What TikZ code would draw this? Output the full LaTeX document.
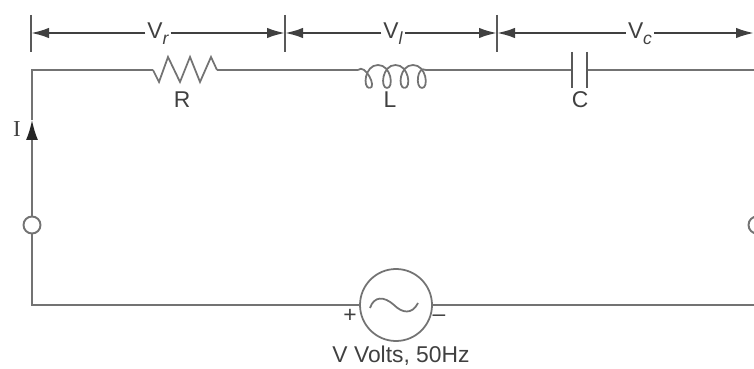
\documentclass[tikz,border=0pt]{standalone}
\usepackage{fontspec}
\setmainfont{Liberation Sans}
\newfontfamily\currentfont{Liberation Serif}
\usetikzlibrary{arrows.meta}
\newcommand{\subtxt}[1]{\raisebox{-3.5pt}{\fontsize{10}{10}\selectfont\itshape #1}}
\tikzset{
    wire/.style={draw=black!55, line width=1pt},
    tick/.style={draw=black!65, line width=1pt},
    dimline/.style={draw=black!75, line width=1.2pt, -{Latex[length=3.6mm,width=2.1mm]}},
    lbl/.style={text=black!75, font=\fontsize{13}{15}\selectfont, inner sep=0pt},
    terminal/.style={draw=black!55, line width=1.1pt, circle, fill=white, inner sep=0pt, minimum size=3.4mm}
}
\begin{document}
\begin{tikzpicture}
    \clip (0,0) rectangle (15.08,7.36);

    % corners and element ends
    \coordinate (tl) at (0.64,5.96);
    \coordinate (tr) at (15.08,5.96);
    \coordinate (br) at (15.08,1.26);
    \coordinate (itip) at (0.64,4.96);
    \coordinate (r1) at (3.06,5.96);
    \coordinate (r2) at (4.34,5.96);
    \coordinate (l1) at (7.16,5.96);
    \coordinate (l2) at (8.52,5.96);
    \coordinate (c1) at (11.44,5.96);
    \coordinate (c2) at (11.74,5.96);

    % Terminals and source
    \node[terminal] (t1) at (0.64,2.86) {};
    \node[terminal] (t2) at (15.14,2.86) {};
    \node[wire, draw, circle, fill=white, inner sep=0pt, minimum size=14.4mm] (vs) at (7.92,1.26) {};

    % Voltage marks
    \coordinate (m0) at (0.62,6.70);
    \coordinate (m1) at (5.70,6.70);
    \coordinate (m2) at (9.94,6.70);
    \coordinate (m3) at (15.08,6.70);
    \draw[tick] (0.62,7.06) -- (0.62,6.32);
    \draw[tick] (5.70,7.06) -- (5.70,6.32);
    \draw[tick] (9.94,7.06) -- (9.94,6.32);

    % Labels
    \node[lbl, inner xsep=1pt] (vr) at (3.16,6.68) {V\subtxt{r}};
    \node[lbl, inner xsep=1pt] (vi) at (7.86,6.68) {V\subtxt{l}};
    \node[lbl, inner xsep=1pt] (vc) at (12.80,6.68) {V\subtxt{c}};
    \node[lbl] (lr) at (3.64,5.36) {R};
    \node[lbl] (ll) at (7.80,5.36) {L};
    \node[lbl] (lc) at (11.60,5.36) {C};
    \node[lbl, font=\currentfont\fontsize{13}{15}\selectfont] (li) at (0.34,4.78) {I};
    \node[lbl] (lp) at (7.00,1.04) {+};
    \node[lbl] (lm) at (8.78,1.00) {--};
    \node[lbl] (lv) at (8.02,0.24) {V Volts, 50Hz};

    % Lines
    \draw[dimline] (vr.west |- m0) -- (m0);
    \draw[dimline] (vr.east |- m0) -- (m1);
    \draw[dimline] (vi.west |- m1) -- (m1);
    \draw[dimline] (vi.east |- m1) -- (m2);
    \draw[dimline] (vc.west |- m2) -- (m2);
    \draw[dimline] (vc.east |- m3) -- (m3);

    \draw[wire, -{Latex[length=4mm,width=2.4mm,black!85]}] (t1) -- (itip);
    \draw[wire] (itip) -- (tl) -- (r1);
    \draw[wire] (r2) -- (l1);
    \draw[wire] (l2) -- (c1);
    \draw[wire] (c2) -- (tr);
    \draw[wire] (t1) |- (vs);
    \draw[wire] (vs) -- (br);

    % Resistor
    \draw[wire] (r1) -- (3.18,5.72) -- (3.36,6.22) -- (3.60,5.72) -- (3.80,6.22)
        -- (4.00,5.72) -- (4.22,6.22) -- (r2);

    % Inductor
    \draw[wire] (l1) .. controls (7.30,6.10) and (7.55,5.60) .. (7.39,5.60);
    \foreach \x in {7.39,7.74,8.09} {
        \draw[wire] (\x,5.60) .. controls (\x-0.14,5.60) and (\x-0.10,6.06) .. (\x+0.17,6.06)
            .. controls (\x+0.44,6.06) and (\x+0.49,5.60) .. (\x+0.35,5.60);
    }
    \draw[wire] (8.44,5.60) .. controls (8.30,5.60) and (8.34,6.06) .. (l2);

    % Capacitor
    \draw[tick] (c1) ++(0,0.36) -- ++(0,-0.72);
    \draw[tick] (c2) ++(0,0.36) -- ++(0,-0.72);

    % Sine
    \draw[wire] (7.40,1.20) .. controls (7.48,1.44) and (7.68,1.44) .. (7.88,1.26)
        .. controls (8.04,1.10) and (8.24,1.06) .. (8.36,1.30);
\end{tikzpicture}
\end{document}
